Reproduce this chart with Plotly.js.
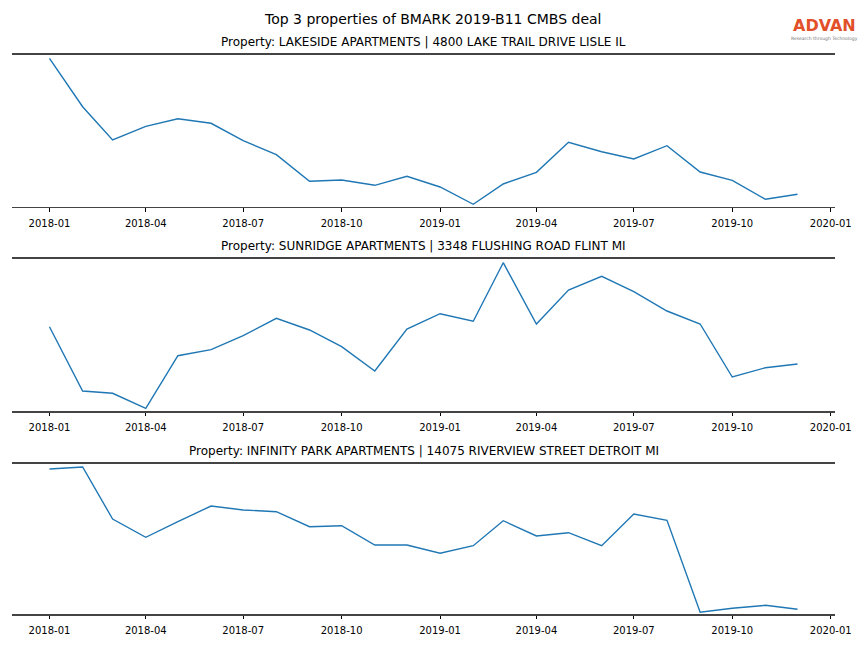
<!DOCTYPE html>
<html>
<head>
<meta charset="utf-8">
<script src="https://cdn.plot.ly/plotly-3.0.1.min.js"></script>
<style>html,body{margin:0;padding:0;background:#fff;}#chart{width:864px;height:648px;}</style>
</head>
<body>
<div id="chart"></div>
<script>
// Monthly dates
const months = ["2018-01-01","2018-02-01","2018-03-01","2018-04-01","2018-05-01","2018-06-01",
  "2018-07-01","2018-08-01","2018-09-01","2018-10-01","2018-11-01","2018-12-01",
  "2019-01-01","2019-02-01","2019-03-01","2019-04-01","2019-05-01","2019-06-01",
  "2019-07-01","2019-08-01","2019-09-01","2019-10-01","2019-11-01","2019-12-01"];

// Relative values (arbitrary units)
const lakeside = [148.4, 100, 66.7, 80.4, 88, 83.4, 66, 52, 25.4, 26.7, 21.4, 30.4,
  19.7, 2.4, 22.7, 34.4, 64.4, 55, 47.7, 61, 34.7, 26.4, 7.4, 12.4];
const sunridge = [84.3, 20, 17.7, 2.7, 55.3, 61.3, 75.3, 92.7, 81, 64.3, 40, 82,
  97.3, 89.7, 148.3, 87, 121, 134.7, 119.3, 100, 87, 34, 43.3, 47];
const infinity = [145, 147, 95, 76.7, 92.3, 108, 104, 102.3, 87.3, 88.3, 69, 69,
  60.7, 68.3, 93.3, 78, 81.3, 68.3, 100, 93.7, 1.7, 5.7, 8.7, 4.7];

const subtitles = [
  "Property: LAKESIDE APARTMENTS | 4800 LAKE TRAIL DRIVE LISLE IL",
  "Property: SUNRIDGE APARTMENTS | 3348 FLUSHING ROAD FLINT MI",
  "Property: INFINITY PARK APARTMENTS | 14075 RIVERVIEW STREET DETROIT MI"
];
const mainTitle = "Top 3 properties of BMARK 2019-B11 CMBS deal";
const yRanges = [[0, 152], [0, 152.3], [0, 150.3]];

const W = 864, H = 648;
const xDom = [12 / W, 835 / W];
const yPix = [[54.7, 206.7], [258.7, 411], [463.7, 614]];
const series = [lakeside, sunridge, infinity];
const font = "DejaVu Sans, sans-serif";

const traces = series.map((s, i) => ({
  x: months, y: s, type: "scatter", mode: "lines",
  line: {color: "#1f77b4", width: 1.4},
  xaxis: i === 0 ? "x" : "x" + (i + 1),
  yaxis: i === 0 ? "y" : "y" + (i + 1),
  hoverinfo: "skip", showlegend: false
}));

const layout = {
  width: W, height: H,
  margin: {l: 0, r: 0, t: 0, b: 0},
  paper_bgcolor: "#fff", plot_bgcolor: "#fff",
  font: {family: font, color: "#000"},
  showlegend: false,
  annotations: []
};

for (let i = 0; i < 3; i++) {
  const sx = i === 0 ? "" : String(i + 1);
  layout["xaxis" + sx] = {
    domain: xDom, anchor: "y" + sx, type: "date",
    range: ["2017-11-27", "2020-01-05"],
    tick0: "2018-01-01", dtick: "M3", tickformat: "%Y-%m",
    ticks: "outside", ticklen: 3.5, tickwidth: 1, tickcolor: "#000",
    ticklabelstandoff: 3,
    tickfont: {size: 10, family: font, color: "#000"},
    showline: true, mirror: true, linecolor: "#444", linewidth: 1.6,
    showgrid: false, zeroline: false, fixedrange: true
  };
  layout["yaxis" + sx] = {
    domain: [1 - yPix[i][1] / H, 1 - yPix[i][0] / H], anchor: "x" + sx,
    range: yRanges[i], showticklabels: false, ticks: "",
    showline: false, showgrid: false, zeroline: false, fixedrange: true
  };
  layout.annotations.push({
    text: subtitles[i], xref: "paper", yref: "paper",
    x: (xDom[0] + xDom[1]) / 2, y: 1 - (yPix[i][0] - 13) / H,
    xanchor: "center", yanchor: "middle", showarrow: false,
    font: {size: 12, family: font, color: "#000"}
  });
}

layout.annotations.push({
  text: mainTitle, xref: "paper", yref: "paper", x: 0.5, y: 1 - 19 / H,
  xanchor: "center", yanchor: "middle", showarrow: false,
  font: {size: 14, family: font, color: "#000"}
});
layout.annotations.push({
  text: "<b>ADVAN</b>", xref: "paper", yref: "paper", x: 824 / W, y: 1 - 25.5 / H,
  xanchor: "center", yanchor: "middle", showarrow: false,
  font: {size: 16, family: font, color: "#e2502a"}
});
layout.annotations.push({
  text: "Research through Technology", xref: "paper", yref: "paper", x: 824 / W, y: 1 - 38.5 / H,
  xanchor: "center", yanchor: "middle", showarrow: false,
  font: {size: 4.5, family: font, color: "#777"}
});

Plotly.newPlot("chart", traces, layout, {staticPlot: true, displayModeBar: false});
</script>
</body>
</html>
